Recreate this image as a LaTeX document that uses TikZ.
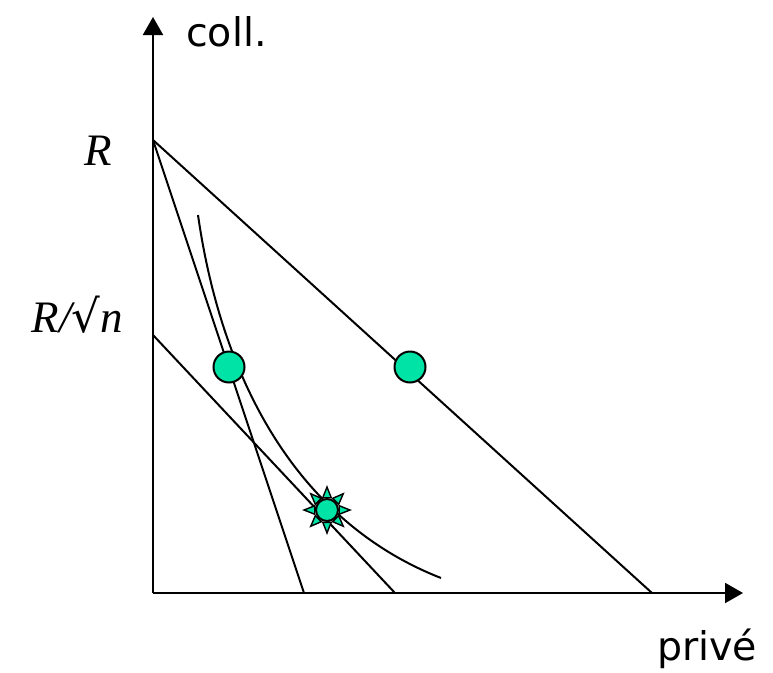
\documentclass[tikz,border=0pt]{standalone}
\usepackage{fontspec}
\setmainfont{DejaVu Sans}
\newfontfamily\timesf{Liberation Serif}
\newfontfamily\symf{DejaVu Sans}
\usetikzlibrary{arrows.meta}
\definecolor{dotgreen}{RGB}{0,227,167}
\tikzset{
  axisline/.style={line width=2pt,-{Triangle[width=20pt,length=18pt]}},
  thinline/.style={line width=2pt},
  dot/.style={circle,fill=dotgreen,draw=black,line width=2pt,minimum size=31pt,inner sep=0pt},
  stardot/.style={dot,minimum size=22pt},
  spike/.style={fill=dotgreen,draw=black,line width=1.4pt,line join=miter},
  sanslabel/.style={font=\fontsize{39.5}{42}\selectfont,inner sep=0pt},
  seriflabel/.style={font=\timesf\itshape\fontsize{45}{48}\selectfont,inner sep=0pt}
}
\begin{document}
\begin{tikzpicture}[x=1pt,y=-1pt]
\useasboundingbox (0,0) rectangle (773,672);
\coordinate (O) at (153,593);
\coordinate (Ytip) at (153,17);
\coordinate (Xtip) at (743,593);
\coordinate (R) at (153,140);
\coordinate (Rn) at (153,335);
\coordinate (A) at (304,593);
\coordinate (B) at (395,593);
\coordinate (C) at (652,593);
\coordinate (U1) at (198,215);
\coordinate (U2) at (441,578);
% axes
\draw[axisline] (O) -- (Ytip);
\draw[axisline] (O) -- (Xtip);
% lines
\draw[thinline] (R) -- (C);
\draw[thinline] (R) -- (A);
\draw[thinline] (Rn) -- (B);
% indifference curve
\draw[thinline] (U1) .. controls (222,382) and (298,522) .. (U2);
% dots
\node[dot] (d1) at (229,367) {};
\node[dot] (d2) at (410,367) {};
% star
\begin{scope}[shift={(327,510)}]
  \foreach \a in {0,45,...,315}
    \draw[spike] (\a:23) -- (\a+19:13) -- (\a-19:13) -- cycle;
\end{scope}
\node[stardot] (s) at (327,510) {};
% labels
\node[sanslabel,anchor=base west] (coll) at (186,46) {coll.};
\node[sanslabel,anchor=base west] (prive) at (657,660) {privé};
\node[seriflabel,anchor=base east] (lR) at (112,165) {R};
\node[seriflabel,anchor=base east] (lRn) at (123,332) {R/{\symf\upshape √}n};
\end{tikzpicture}
\end{document}
